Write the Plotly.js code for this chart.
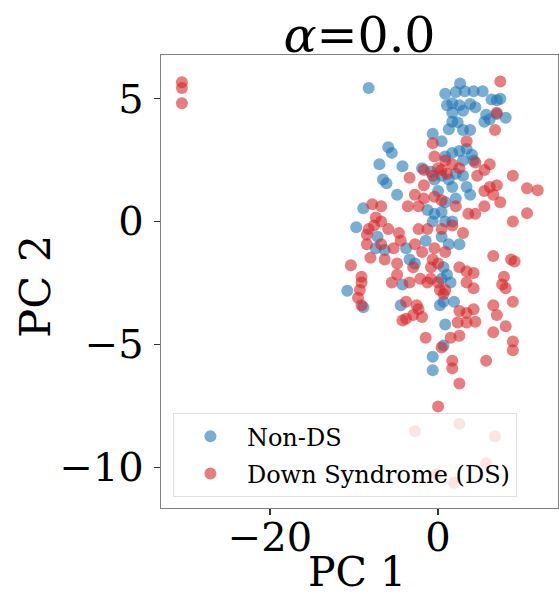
<!DOCTYPE html>
<html>
<head>
<meta charset="utf-8">
<script src="https://cdn.plot.ly/plotly-3.0.1.min.js"></script>
<style>
  html, body { margin: 0; padding: 0; background: #fff; }
  #chart { width: 559px; height: 599px; }
</style>
</head>
<body>
<div id="chart"></div>
<script>
// PCA projection (alpha = 0.0): first two principal components per sample
const nonDsPC1 = [-8.25, 2.64, 0.87, 2.13, 3.20, 4.25, 5.32, 6.38, 7.01, 7.43,
  1.08, 1.71, 2.56, 3.84, 4.46, 1.71, 2.99, 5.74, 7.01, 8.07,
  5.53, 6.17, 1.71, 2.35, 2.99, 3.84, 1.29, -0.62, 0.44, -5.92,
  -5.49, -6.97, -4.22, -6.55, -6.13, -4.86, -1.89, -0.83, 0.87, 1.71,
  2.56, 3.41, 4.05, 4.25, 2.99, -0.41, 0.44, 1.29, 2.13, 2.99,
  3.41, 3.84, 1.71, 2.13, 0.02, 0.87, -1.25, -0.41, 0.44, -0.62,
  0.87, 1.71, -8.89, -9.73, -7.19, -1.46, 0.44, 1.29, 2.56, -7.40,
  -6.34, -3.79, -3.38, -2.74, 0.66, 1.08, 0.44, 1.51, -4.22, -10.79,
  -8.89, -4.43, 0.23, 0.66, 1.92, 0.87, 0.66, -0.62, -0.62];
const nonDsPC2 = [5.43, 5.61, 5.19, 5.27, 5.30, 5.30, 5.30, 4.96, 4.93, 4.99,
  4.73, 4.81, 4.73, 4.78, 4.65, 4.42, 4.50, 4.34, 4.37, 4.22,
  4.06, 4.16, 4.06, 4.03, 3.72, 3.72, 3.75, 3.57, 3.26, 3.02,
  2.79, 2.33, 2.25, 1.71, 1.55, 1.09, 2.17, 2.02, 2.64, 2.79,
  2.87, 2.95, 2.71, 2.48, 2.48, 1.71, 1.86, 1.71, 1.94, 1.86,
  1.40, 1.09, 1.40, 0.93, 1.24, 0.78, 0.47, 0.31, 0.39, 0.00,
  0.00, 0.00, 0.54, -0.23, -0.62, -0.78, -0.62, -0.93, -0.93, -1.09,
  -1.16, -1.09, -1.55, -1.71, -1.86, -2.17, -2.33, -2.48, -2.56, -2.82,
  -3.49, -3.41, -3.41, -3.26, -3.26, -4.19, -5.04, -5.50, -6.05];

const dsPC1 = [-30.49, -30.49, -30.49, 7.43, 6.80, 7.01, -0.62, 3.41, -0.41, 0.87,
  1.71, 2.56, 0.02, 4.46, 6.17, 5.53, 4.68, 0.44, 1.08, -1.67,
  -0.62, -3.38, 8.92, 10.61, 11.89, 7.01, 6.17, 5.53, 6.59, 7.43,
  5.53, 4.46, 3.62, 10.61, 8.92, -1.67, -2.74, -1.67, -0.41, 0.44,
  -3.59, -2.31, 2.13, -7.82, -6.76, -7.40, -6.76, -7.61, -8.25, -5.92,
  -8.46, -4.64, -2.31, -1.25, 0.44, 1.71, 2.99, -8.46, -6.76, -5.28,
  -4.43, -2.74, -1.89, -0.41, 0.87, -8.04, -6.34, -4.86, -2.95, -0.62,
  0.02, -0.83, 6.59, 8.71, 9.13, -10.37, -9.10, -9.10, -9.30, -9.52,
  -9.10, -4.86, -5.49, -3.38, -2.10, -1.25, -0.83, 0.02, 0.23, 0.87,
  0.66, 2.56, 3.41, 4.25, 3.41, 4.25, 7.86, 7.65, 8.07, -3.79,
  -2.53, -2.31, -2.95, -1.89, -3.79, -4.22, 2.56, 3.41, 4.25, 6.59,
  7.01, 8.92, 2.35, 3.41, 4.46, 8.07, 6.59, -1.46, 1.51, 2.56,
  8.92, 8.92, 0.44, 1.71, 1.71, 5.74, 2.56, 0.02, -2.74, 2.56,
  6.80, 5.74, -0.20, 1.92];
const dsPC2 = [5.66, 5.43, 4.81, 5.69, 3.72, 4.42, 3.18, 3.26, 2.64, 2.48,
  2.33, 2.17, 2.17, 2.40, 2.33, 2.09, 1.86, 2.09, 1.94, 2.09,
  1.86, 1.78, 1.86, 1.35, 1.27, 1.47, 1.40, 1.24, 1.09, 0.78,
  0.62, 0.31, 0.31, 0.34, 0.00, 1.47, 1.09, 0.93, 1.01, 0.85,
  0.62, 0.62, 0.62, 0.70, 0.62, 0.16, 0.00, -0.16, -0.31, -0.31,
  -0.54, -0.47, -0.31, -0.31, -0.31, -0.16, -0.47, -0.93, -0.93, -1.09,
  -0.78, -0.93, -1.24, -1.09, -1.24, -1.47, -1.55, -1.71, -1.86, -1.55,
  -1.71, -1.86, -1.40, -1.55, -1.63, -1.78, -2.25, -2.48, -2.79, -3.10,
  -3.41, -2.17, -2.48, -2.48, -2.33, -2.48, -2.33, -2.48, -2.79, -2.79,
  -2.95, -1.86, -2.02, -2.09, -2.48, -2.71, -2.25, -2.56, -2.71, -3.26,
  -3.41, -3.57, -3.80, -3.88, -3.95, -4.03, -3.64, -3.72, -3.57, -3.41,
  -3.80, -3.26, -4.11, -4.11, -4.08, -4.26, -4.50, -4.73, -4.73, -4.65,
  -4.88, -5.24, -5.12, -5.66, -5.97, -5.66, -6.59, -7.52, -8.53, -8.22,
  -8.73, -9.84, -10.28, -10.62];

const seriesNames = ['Non-DS', 'Down Syndrome (DS)'];
const seriesColors = ['#1f77b4', '#d62728'];

const serif = 'DejaVu Serif, Liberation Serif, serif';

const traces = [
  { x: nonDsPC1, y: nonDsPC2, name: seriesNames[0], color: seriesColors[0] },
  { x: dsPC1, y: dsPC2, name: seriesNames[1], color: seriesColors[1] }
].map(s => ({
  type: 'scatter',
  mode: 'markers',
  x: s.x,
  y: s.y,
  name: s.name,
  legendgroup: s.name,
  marker: { color: s.color, size: 12, opacity: 0.6, line: { width: 0 } },
  hoverinfo: 'x+y+name'
}));

const axisCommon = {
  showgrid: false,
  zeroline: false,
  showline: true,
  linecolor: '#808080',
  linewidth: 1.2,
  mirror: true,
  ticks: 'outside',
  ticklen: 6,
  tickwidth: 1.2,
  tickcolor: '#333',
  tickfont: { family: serif, size: 40, color: '#000' }
};

const layout = {
  width: 559,
  height: 599,
  margin: { l: 161, r: 1, t: 55, b: 91 },
  paper_bgcolor: '#fff',
  plot_bgcolor: '#fff',
  font: { family: serif, color: '#000' },
  title: {
    text: '<i>α</i>=0.0',
    font: { family: serif, size: 49, color: '#000' },
    x: 0.5, xref: 'paper', xanchor: 'center',
    y: 1, yref: 'paper', yanchor: 'bottom',
    pad: { b: 3 }
  },
  xaxis: Object.assign({}, axisCommon, {
    range: [-32.98, 14.3],
    tickvals: [-20, 0],
    ticklabelstandoff: -12
  }),
  yaxis: Object.assign({}, axisCommon, {
    range: [-11.65, 6.77],
    tickvals: [-10, -5, 0, 5],
    ticklabelstandoff: 2
  }),
  annotations: [
    {
      text: 'PC 1', xref: 'paper', yref: 'paper',
      x: 0.494, y: -0.199, xanchor: 'center', yanchor: 'bottom',
      showarrow: false, font: { family: serif, size: 41, color: '#000' }
    },
    {
      text: 'PC 2', xref: 'paper', yref: 'paper',
      x: -0.318, y: 0.49, xanchor: 'center', yanchor: 'middle',
      textangle: -90,
      showarrow: false, font: { family: serif, size: 43, color: '#000' }
    }
  ],
  legend: {
    x: 0.03, y: 0.024, xanchor: 'left', yanchor: 'bottom',
    bgcolor: 'rgba(255,255,255,0.8)',
    bordercolor: '#e0e0e0',
    borderwidth: 1,
    font: { family: serif, size: 24, color: '#000' },
    traceorder: 'grouped',
    tracegroupgap: 3,
    itemwidth: 63
  },
  showlegend: true
};

Plotly.newPlot('chart', traces, layout, { displayModeBar: false, staticPlot: true });
</script>
</body>
</html>
